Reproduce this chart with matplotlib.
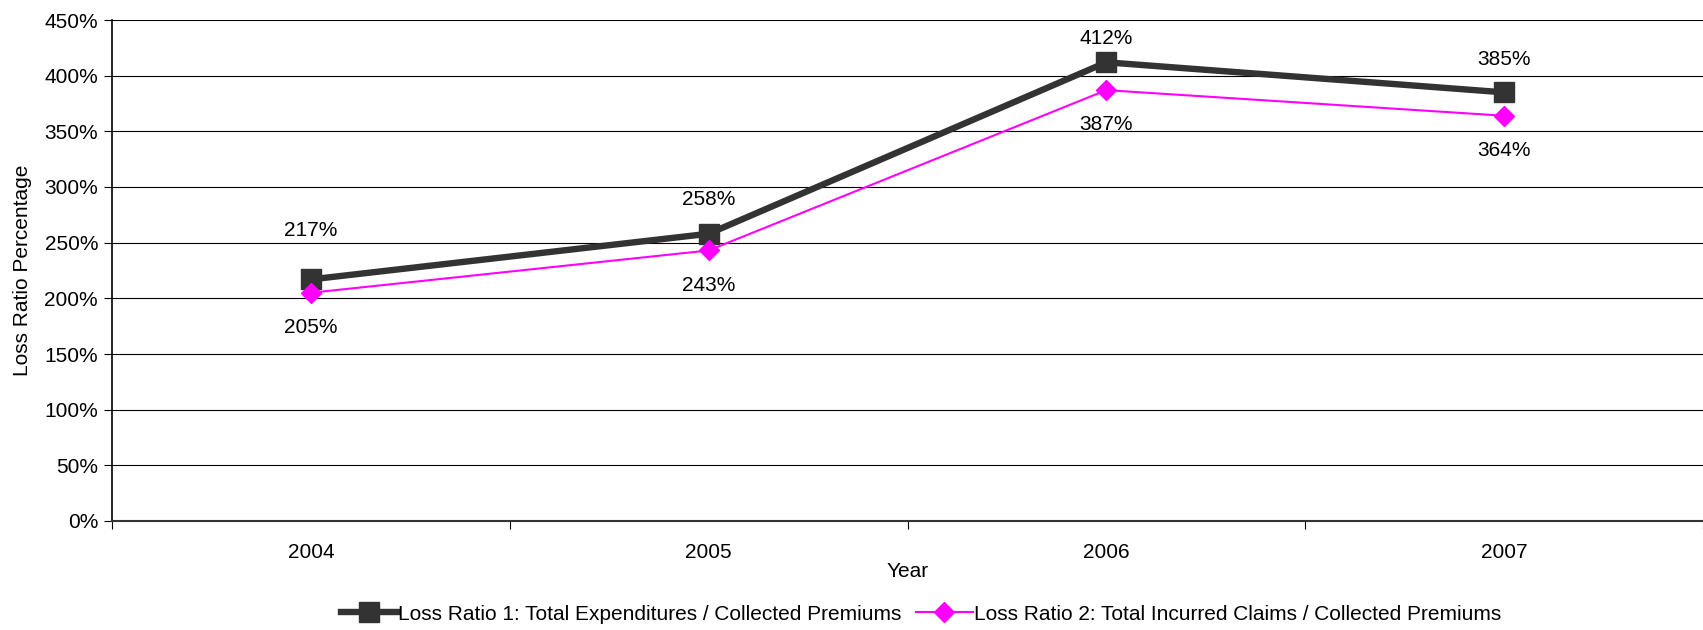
import matplotlib
matplotlib.use("Agg")
import matplotlib.pyplot as plt
from matplotlib.ticker import FuncFormatter

plt.rcParams['font.family'] = ['Liberation Sans', 'DejaVu Sans']

years = ["2004", "2005", "2006", "2007"]
ratio1 = [217, 258, 412, 385]
ratio2 = [205, 243, 387, 364]
name1 = "Loss Ratio 1: Total Expenditures / Collected Premiums"
name2 = "Loss Ratio 2: Total Incurred Claims / Collected Premiums"

# label offsets (points)
off1 = [35, 25, 17, 24]
off2 = [-25, -25, -25, -25]

FS = 15

fig = plt.figure(figsize=(17.03, 6.30), dpi=100)
ax = fig.add_axes([112/1703, 1 - 521/630, 1 - 112/1703, 501/630])

x = list(range(len(years)))
ax.plot(x, ratio1, color="#333333", lw=4.6, marker="s", markersize=14,
        label=name1, zorder=3)
ax.plot(x, ratio2, color="#FF00FF", lw=1.5, marker="D", markersize=10,
        label=name2, zorder=4)

for i in x:
    ax.annotate(f"{ratio1[i]}%", (i, ratio1[i]), xytext=(0, off1[i]),
                textcoords="offset points", ha="center", va="center", fontsize=FS)
    ax.annotate(f"{ratio2[i]}%", (i, ratio2[i]), xytext=(0, off2[i]),
                textcoords="offset points", ha="center", va="center", fontsize=FS)

ax.set_ylim(0, 450)
ax.set_yticks(range(0, 451, 50))
ax.yaxis.set_major_formatter(FuncFormatter(lambda v, p: f"{int(v)}%"))
ax.set_xlim(-0.5, (1703 - 112) / 401.3 - 0.5)
ax.set_xticks(x)
ax.set_xticklabels(years)
ax.set_xticks([i + 0.5 for i in range(-1, 4)], minor=True)
ax.tick_params(axis="x", which="major", length=0, pad=16, labelsize=FS)
ax.tick_params(axis="x", which="minor", length=6, color="black", width=0.8)
ax.tick_params(axis="y", length=6, width=0.8, labelsize=FS, pad=4)

ax.grid(axis="y", color="black", lw=0.8)
ax.set_axisbelow(True)
for s in ["top", "right"]:
    ax.spines[s].set_visible(False)
ax.spines["left"].set_linewidth(1.2)
ax.spines["bottom"].set_linewidth(1.5)
ax.spines["bottom"].set_color("#333333")

ax.set_ylabel("Loss Ratio Percentage", fontsize=FS, labelpad=9)
ax.set_xlabel("Year", fontsize=FS, labelpad=0)

fig.legend(loc="center", bbox_to_anchor=(921/1703, 1 - 614/630), ncol=2, frameon=False,
           fontsize=FS, handlelength=2.7, handletextpad=0.05, columnspacing=0.7)

fig.savefig("out.png", dpi=100)
